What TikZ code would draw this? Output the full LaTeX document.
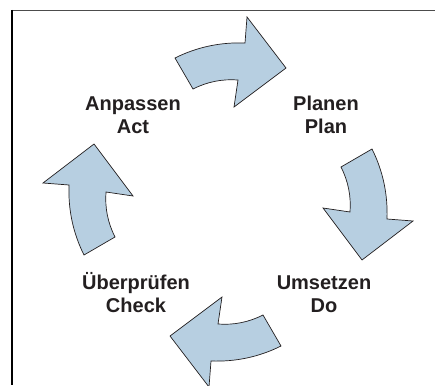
\documentclass[tikz,border=0pt]{standalone}
\usepackage{fontspec}
\setmainfont{Liberation Sans}
\usepackage{tikz}
\definecolor{arrowblue}{HTML}{B7CFE1}
\definecolor{inkgrey}{HTML}{231F20}

\begin{document}
\begin{tikzpicture}[x=1pt, y=-1pt,
		phase/.style={font=\fontsize{20}{22.5}\selectfont\bfseries, text=inkgrey, align=center, inner sep=0pt},
		bentarrow/.style={draw=inkgrey, line width=0.7pt, fill=arrowblue, line join=miter}]
			%%%%% START %%%%%
			
			\useasboundingbox (0, 0) rectangle (435, 385);
			
			\draw[line width=1.5pt, color=black!70] (11.3, 10.5) -- (435, 10.5);
			\draw[line width=1.5pt, color=black] (12, 10) -- (12, 385);
			
			% one curved arrow, turned four times round the middle
			\foreach \turn in {0, -90, -180, -270}{
				\begin{scope}[shift={(228, 202)}, rotate=\turn]
					\draw[bentarrow] (-53, -144) .. controls (-31, -155) and (-7.6, -159.9) .. (17, -159)
						-- (19, -185) -- (58, -134) -- (6, -95) -- (10, -122)
						.. controls (-5.8, -123.2) and (-20.8, -120.2) .. (-35, -113) -- cycle;
				\end{scope}
			}
			
			\node[phase] (act) at (133, 115) {Anpassen\\Act};
			\node[phase] (plan) at (326, 115) {Planen\\Plan};
			\node[phase] (do) at (324, 294.4) {Umsetzen\\Do};
			\node[phase] (check) at (136, 292.5) {Überprüfen\\Check};
			
			%%%%% END %%%%%
		\end{tikzpicture}
\end{document}
